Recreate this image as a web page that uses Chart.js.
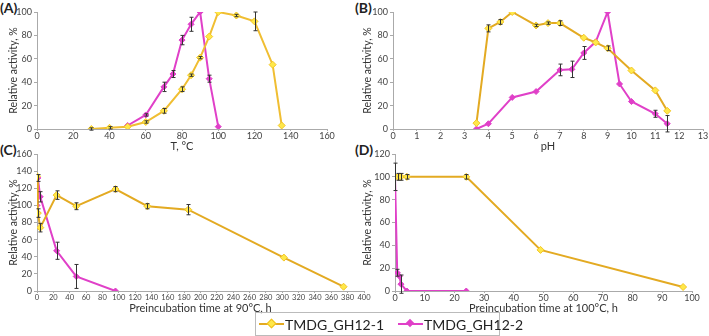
<!DOCTYPE html>
<html>
<head>
<meta charset="utf-8">
<script src="https://cdn.jsdelivr.net/npm/chart.js@4.4.1/dist/chart.umd.min.js"></script>
<style>
  body { margin: 0; width: 709px; height: 336px; position: relative; background: #fff; overflow: hidden; font-family: Lato, sans-serif; }
  .panel { position: absolute; }
  .tag { position: absolute; font: bold 14px Lato, sans-serif; color: #222; line-height: 14px; }
  #legend { position: absolute; left: 255px; top: 312px; width: 240px; height: 22px; border: 1px solid #bbb;
            display: flex; align-items: center; justify-content: flex-start; gap: 14px; padding-left: 3px;
            font: 14px Lato, sans-serif; color: #222; white-space: nowrap; }
  .item { display: flex; align-items: center; gap: 1px; flex-shrink: 0; }
  .sym { position: relative; width: 25px; height: 2px; flex-shrink: 0; }
  .sym i { position: absolute; left: 9px; top: -3px; width: 6px; height: 6px; transform: rotate(45deg); }
</style>
</head>
<body>

<div class="tag" style="left:0;top:1px">(A)</div>
<div class="tag" style="left:355px;top:1px">(B)</div>
<div class="tag" style="left:0;top:143px">(C)</div>
<div class="tag" style="left:355px;top:143px">(D)</div>

<div class="panel" style="left:0;top:0;width:340px;height:153px"><canvas id="chartA"></canvas></div>
<div class="panel" style="left:354px;top:0;width:355px;height:153px"><canvas id="chartB"></canvas></div>
<div class="panel" style="left:0;top:140px;width:372px;height:175px"><canvas id="chartC"></canvas></div>
<div class="panel" style="left:354px;top:140px;width:355px;height:175px"><canvas id="chartD"></canvas></div>

<div id="legend">
  <div class="item"><span class="sym" style="background:#E3AA22"><i style="background:#FFE84A;border:1px solid #F0C020;width:5px;height:5px"></i></span>TMDG_GH12-1</div>
  <div class="item"><span class="sym" style="background:#E040C8"><i style="background:#E040C8"></i></span>TMDG_GH12-2</div>
</div>

<script>
// series names
const names = ['TMDG_GH12-1', 'TMDG_GH12-2'];

// (A) temperature
const tempA1 = [30, 40, 50, 60, 70, 80, 85, 90, 95, 100, 110, 120, 130, 135];
const actA1 = [0, 1, 2, 6, 15.5, 34, 46, 61, 79, 100, 97, 92, 55, 3];
const errA1 = [1, 1, 0, 1, 2, 2, 1, 1, 0, 0, 1, 8, 0, 0];
const tempA2 = [50, 60, 70, 75, 80, 85, 90, 95, 100];
const actA2 = [3, 12, 36, 47, 76, 89.5, 100, 43, 2];
const errA2 = [0, 1, 4, 3, 4, 6, 0, 3, 0];

// (B) pH
const phB1 = [3.5, 4, 4.5, 5, 6, 6.5, 7, 8, 8.5, 9, 10, 11, 11.5];
const actB1 = [5, 86, 91.5, 100, 88.5, 90.5, 90.5, 78, 74, 69, 50, 33, 15.5];
const errB1 = [0, 3, 2, 0, 1, 1, 2, 0, 0, 2, 0, 0, 0];
const phB2 = [3.5, 4, 5, 6, 7, 7.5, 8, 8.5, 9, 9.5, 10, 11, 11.5];
const actB2 = [0, 4.5, 27, 32, 50.5, 51, 65, 74.5, 100, 38.5, 23.5, 13, 4.5];
const errB2 = [0, 0, 0, 0, 5, 7, 5.5, 0, 0, 0, 0, 3, 7];

// (C) preincubation at 90 °C
const timeC1 = [0, 1, 4, 24, 48, 96, 135, 185, 302, 375];
const actC1 = [134, 91, 74, 112, 99, 119, 99, 95, 39, 5];
const errC1 = [0, 5, 5, 5, 4, 3, 3, 6, 0, 0];
const timeC2 = [0, 1, 4, 24, 48, 96];
const actC2 = [100, 132, 110, 47, 17, 0];
const errC2 = [0, 4, 6, 10, 14, 0];

// (D) preincubation at 100 °C
const timeD1 = [0, 1, 2, 4, 24, 49, 97];
const actD1 = [100, 100, 100, 100, 100, 36, 3.5];
const errD1 = [0, 3, 3, 2, 2, 0, 0];
const timeD2 = [0, 0.75, 1.5, 2, 4, 24];
const actD2 = [100, 16, 13, 6, 0, 0];
const errD2 = [12, 3, 0, 8, 0, 0];

const FONT = 'Lato, sans-serif';

const errorBars = {
  id: 'errorBars',
  afterDatasetsDraw(chart) {
    const ctx = chart.ctx;
    const xs = chart.scales.x, ys = chart.scales.y;
    ctx.save();
    ctx.strokeStyle = '#333';
    ctx.lineWidth = 1;
    chart.data.datasets.forEach(ds => {
      ds.errors.forEach((e, i) => {
        if (!e) return;
        const p = ds.data[i];
        const x = Math.round(xs.getPixelForValue(p.x)) + 0.5;
        const y1 = ys.getPixelForValue(p.y - e);
        const y2 = ys.getPixelForValue(p.y + e);
        ctx.beginPath();
        ctx.moveTo(x, y1); ctx.lineTo(x, y2);
        ctx.moveTo(x - 2, y1); ctx.lineTo(x + 2, y1);
        ctx.moveTo(x - 2, y2); ctx.lineTo(x + 2, y2);
        ctx.stroke();
      });
    });
    ctx.restore();
  }
};

function pts(xs, ys) {
  return xs.map((x, i) => ({ x: x, y: ys[i] }));
}

function makeChart(id, o) {
  const datasets = [
    {
      label: names[0],
      data: pts(o.x1, o.y1),
      errors: o.e1,
      borderColor: o.gold || '#E3AA22',
      borderWidth: 2,
      pointStyle: 'rectRot',
      pointRadius: 3.5,
      pointBackgroundColor: '#FFE84A',
      pointBorderColor: '#F2C524',
      pointBorderWidth: 1
    },
    {
      label: names[1],
      data: pts(o.x2, o.y2),
      errors: o.e2,
      borderColor: '#E040C8',
      borderWidth: 2,
      pointStyle: 'rectRot',
      pointRadius: 3,
      pointBackgroundColor: '#E040C8',
      pointBorderColor: '#E040C8',
      pointBorderWidth: 1
    }
  ];

  return new Chart(document.getElementById(id), {
    type: 'line',
    data: { datasets: datasets },
    plugins: [errorBars],
    options: {
      responsive: true,
      maintainAspectRatio: false,
      animation: false,
      layout: { padding: { top: o.padTop, right: o.padRight, left: 0, bottom: 0 } },
      plugins: { legend: { display: false }, tooltip: { enabled: false } },
      scales: {
        x: {
          type: 'linear',
          min: o.xMin, max: o.xMax,
          afterFit: s => { s.height = o.xH; },
          ticks: { stepSize: o.xStep, autoSkip: false, maxRotation: 0, color: '#444', padding: 0,
                   font: { family: FONT, size: o.xTickSize || 9 } },
          grid: { drawOnChartArea: false, color: '#aaa', tickLength: 2 },
          border: { color: '#aaa' },
          title: { display: true, text: o.xTitle, color: '#333', padding: 0,
                   font: { family: FONT, size: 11 } }
        },
        y: {
          min: 0, max: o.yMax,
          afterFit: s => { s.width = o.yW; },
          ticks: { stepSize: 20, color: '#444', padding: 2, font: { family: FONT, size: 9 } },
          grid: { drawOnChartArea: false, color: '#aaa', tickLength: 3 },
          border: { color: '#aaa' },
          title: { display: true, text: 'Relative activity, %', color: '#333', padding: { top: 7, bottom: 0 },
                   font: { family: FONT, size: 10.5 } }
        }
      }
    }
  });
}

makeChart('chartA', {
  x1: tempA1, y1: actA1, e1: errA1, x2: tempA2, y2: actA2, e2: errA2,
  xMin: 0, xMax: 160, xStep: 20, yMax: 100, xTitle: 'T, °C',
  yW: 37, xH: 24, padTop: 12, padRight: 13, gold: '#F0BE32'
});

makeChart('chartB', {
  x1: phB1, y1: actB1, e1: errB1, x2: phB2, y2: actB2, e2: errB2,
  xMin: 0, xMax: 13, xStep: 1, yMax: 100, xTitle: 'pH',
  yW: 39, xH: 24, padTop: 12, padRight: 6
});

makeChart('chartC', {
  x1: timeC1, y1: actC1, e1: errC1, x2: timeC2, y2: actC2, e2: errC2,
  xMin: 0, xMax: 400, xStep: 20, yMax: 160, xTitle: 'Preincubation time at 90°C, h',
  yW: 37, xH: 24, padTop: 14, padRight: 8, xTickSize: 7.5
});

makeChart('chartD', {
  x1: timeD1, y1: actD1, e1: errD1, x2: timeD2, y2: actD2, e2: errD2,
  xMin: 0, xMax: 100, xStep: 10, yMax: 120, xTitle: 'Preincubation time at 100°C, h',
  yW: 41, xH: 24, padTop: 14, padRight: 17
});
</script>
</body>
</html>
